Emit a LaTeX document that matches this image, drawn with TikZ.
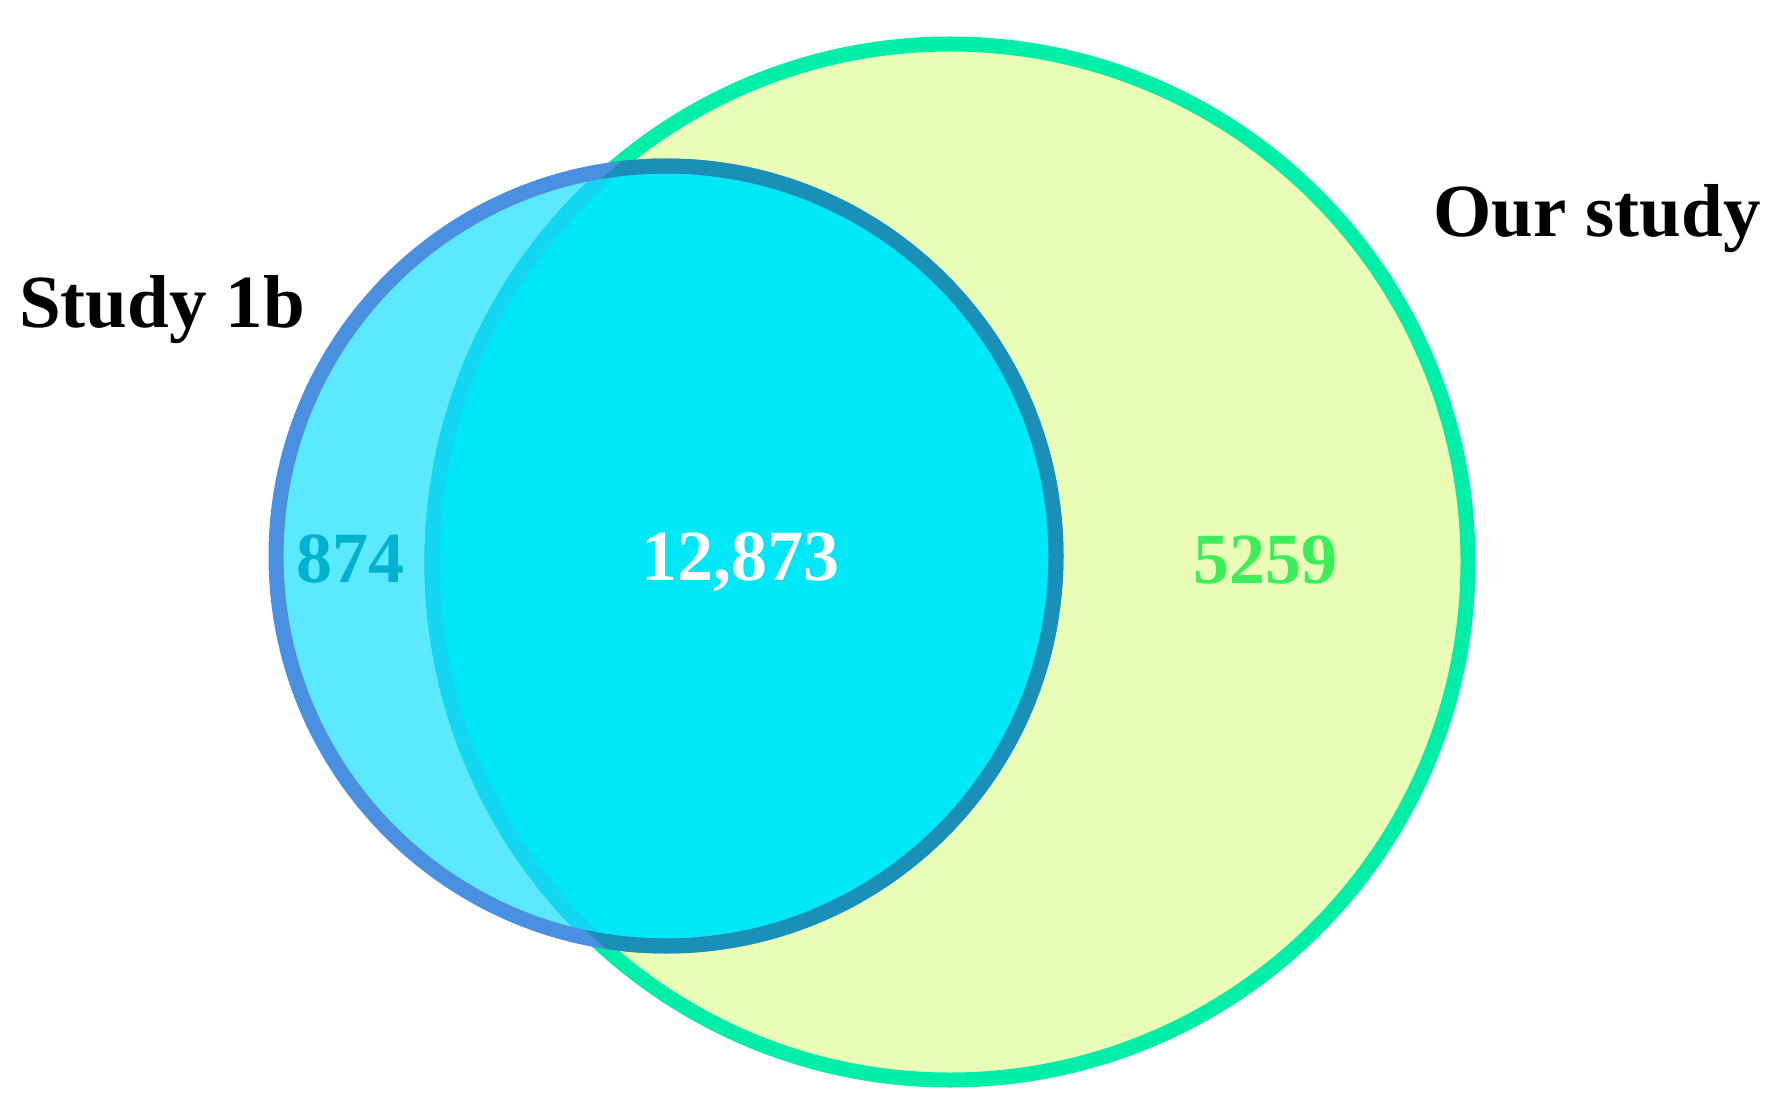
\documentclass[tikz,border=0pt]{standalone}
\usepackage{fontspec}
\setmainfont{Liberation Serif}
\definecolor{bigfill}{HTML}{EAFDB6}
\definecolor{bigline}{HTML}{00EEA8}
\definecolor{bigin}{HTML}{12D6F2}
\definecolor{smallfill}{HTML}{5BE9FF}
\definecolor{overlapfill}{HTML}{00E8F8}
\definecolor{smallline}{HTML}{4A90E0}
\definecolor{smallin}{HTML}{1A90B8}
\definecolor{numleft}{HTML}{00B2CF}
\definecolor{numright}{HTML}{3CEE5A}
\tikzset{
  label/.style={inner sep=0pt, anchor=base, font=\fontsize{75}{90}\selectfont\bfseries, text=black},
  num/.style={inner sep=0pt, anchor=base, font=\fontsize{72}{86}\selectfont\bfseries},
}
\begin{document}
\begin{tikzpicture}[x=1pt,y=-1pt]
\useasboundingbox (0,0) rectangle (1781,1115);
\fill[white] (0,0) rectangle (1781,1115);
% big circle (Our study)
\fill[bigfill] (950,562) circle[radius=518pt];
% small circle (Study 1b)
\fill[smallfill] (666,556) circle[radius=390pt];
\begin{scope}
  \clip (950,562) circle[radius=518pt];
  \fill[overlapfill] (666,556) circle[radius=390pt];
\end{scope}
% big circle outline
\draw[bigline, line width=15pt] (950,562) circle[radius=518pt];
\begin{scope}
  \clip (666,556) circle[radius=390pt];
  \draw[bigin, line width=15pt] (950,562) circle[radius=518pt];
\end{scope}
% small circle outline
\draw[smallline, line width=15pt] (666,556) circle[radius=390pt];
\begin{scope}
  \clip (950,562) circle[radius=518pt];
  \draw[smallin, line width=15pt] (666,556) circle[radius=390pt];
\end{scope}
% labels
\node[label] (study) at (162,328) {Study 1b};
\node[label] (our) at (1597,237) {Our study};
\node[num, text=numleft] (left) at (350,582) {874};
\node[num, text=white] (mid) at (740,580) {12,873};
\node[num, text=numright] (right) at (1265,583) {5259};
\end{tikzpicture}
\end{document}
